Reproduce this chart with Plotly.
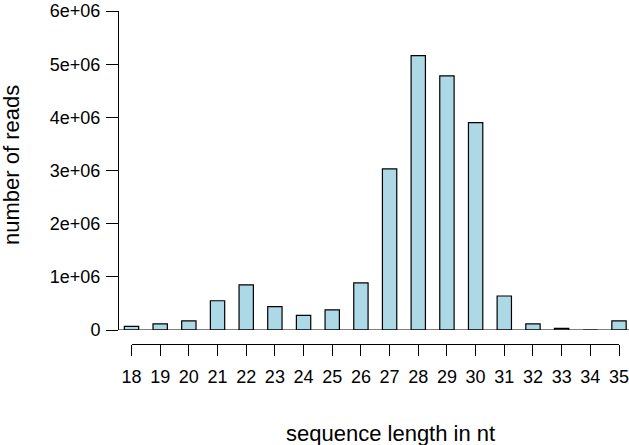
import plotly.graph_objects as go

lengths = list(range(18, 36))
reads = [70000, 115000, 170000, 550000, 850000, 440000, 275000, 380000, 885000,
         3030000, 5160000, 4780000, 3900000, 640000, 115000, 30000, 0, 170000]
y_ticks = [0, 1e6, 2e6, 3e6, 4e6, 5e6, 6e6]
y_tick_labels = ["0", "1e+06", "2e+06", "3e+06", "4e+06", "5e+06", "6e+06"]

W, H = 629, 445
L, R, T, B = 119, 0, 11, 101
pw = W - L - R
ph = H - T - B
x18_px, x35_px = 131.5, 619
unit = (x35_px - x18_px) / 17.0
x_lo = 18 - (x18_px - L) / unit
x_hi = 35 + (W - R - x35_px) / unit
y0_px = 330

font = "Liberation Sans, Arial, sans-serif"
tick_font = dict(family=font, size=18, color="black")
title_font = dict(family=font, size=22, color="black")

fig = go.Figure()
fig.add_trace(go.Bar(x=lengths, y=reads, width=0.5,
                     marker=dict(color="#ADD8E6", line=dict(color="black", width=1.2)),
                     xaxis="x", yaxis="y", showlegend=False, hoverinfo="x+y"))
fig.add_trace(go.Scatter(x=lengths, y=[0] * len(lengths), mode="markers",
                         marker=dict(opacity=0), xaxis="x2", yaxis="y",
                         showlegend=False, hoverinfo="skip"))

fig.update_layout(
    width=W, height=H,
    margin=dict(l=L, r=R, t=T, b=B, pad=0, autoexpand=False),
    paper_bgcolor="white", plot_bgcolor="rgba(0,0,0,0)",
    font=dict(family=font, size=18, color="black"),
    xaxis=dict(domain=[0, 1], range=[x_lo, x_hi], showgrid=False, zeroline=False,
               showline=False, showticklabels=False, ticks="", fixedrange=True,
               automargin=False),
    xaxis2=dict(domain=[(x18_px - L) / pw, (x35_px - L) / pw], range=[18, 35],
                anchor="free", position=0,
                showgrid=False, zeroline=False, showline=True, linecolor="black", linewidth=1,
                ticks="outside", ticklen=11, tickcolor="black", tickwidth=1,
                tickvals=lengths, ticktext=[str(v) for v in lengths],
                ticklabelstandoff=5, ticklabeloverflow="allow",
                tickfont=tick_font, fixedrange=True, automargin=False),
    yaxis=dict(domain=[(H - B - y0_px) / ph, 1], range=[0, 6e6 * 1.0002], showgrid=False,
               zeroline=False, showline=True, linecolor="black", linewidth=1,
               ticks="outside", ticklen=12, tickcolor="black", tickwidth=1,
               tickvals=y_ticks, ticktext=y_tick_labels, ticklabeloverflow="allow",
               ticklabelstandoff=2,
               tickfont=tick_font, fixedrange=True, automargin=False),
    shapes=[dict(type="line", xref="paper", yref="y", x0=0, x1=1, y0=0, y1=0,
                 line=dict(color="black", width=1))],
    annotations=[
        dict(text="number of reads", xref="paper", yref="paper",
             x=(11 - L) / pw, y=(H - B - 165) / ph, textangle=-90, showarrow=False,
             font=title_font, xanchor="center", yanchor="middle"),
        dict(text="sequence length in nt", xref="paper", yref="paper",
             x=(390 - L) / pw, y=(H - B - 433) / ph, showarrow=False,
             font=title_font, xanchor="center", yanchor="middle"),
    ],
)

fig.write_html("out.html", config={"displayModeBar": False},
               post_script="document.body.style.margin='0';")
